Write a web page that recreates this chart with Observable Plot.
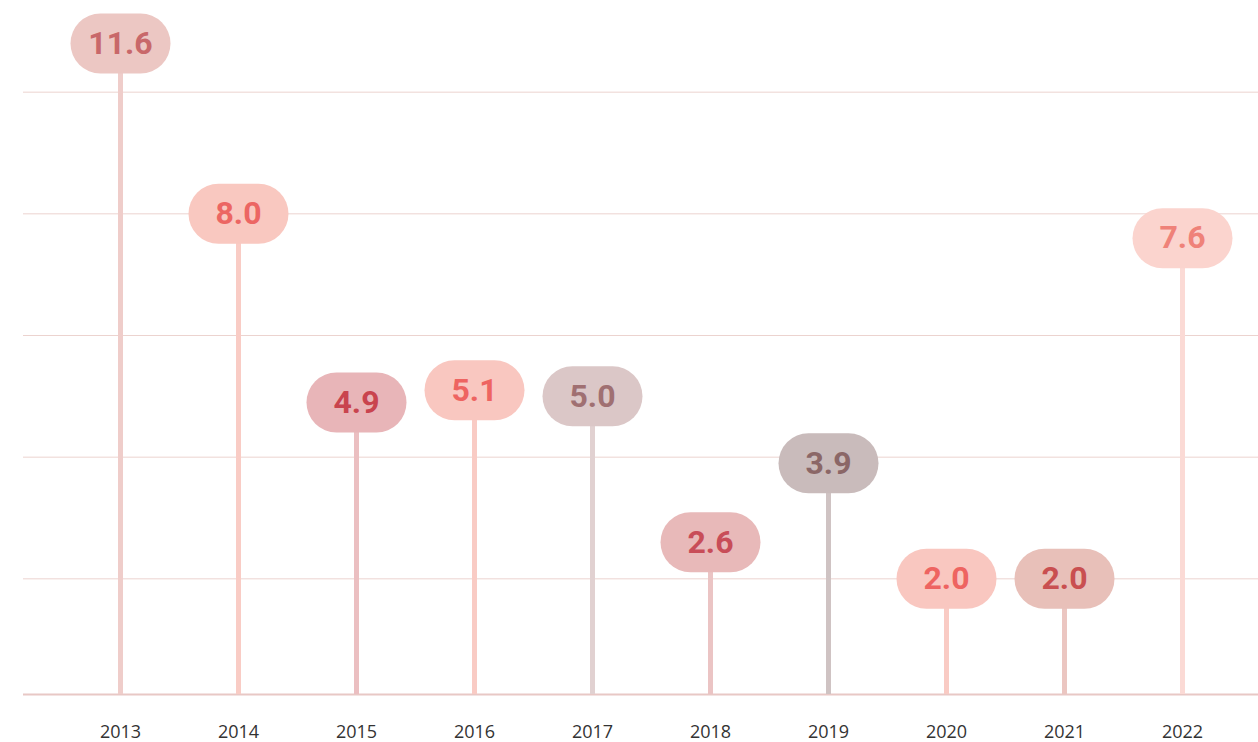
<!DOCTYPE html>
<html><head><meta charset="utf-8">
<script src="https://cdn.jsdelivr.net/npm/d3@7"></script>
<script src="https://cdn.jsdelivr.net/npm/@observablehq/plot@0.6"></script>
<style>body{margin:0;background:#fff;overflow:hidden;}</style>
</head><body><div id="chart"></div>
<script>
const years = ["2013","2014","2015","2016","2017","2018","2019","2020","2021","2022"];
const values = [11.6, 8.0, 4.9, 5.1, 5.0, 2.6, 3.9, 2.0, 2.0, 7.6];
const pillFills = ["#ecc7c3","#f9c8c0","#e8b5b8","#f9c7c0","#dbc7c7","#e8b9b9","#c9bbbb","#f9c7c0","#e8c0b9","#fbd4ce"];
const textColors = ["#c8686a","#ec6663","#c9444e","#ee6461","#a07072","#c84d58","#8b6767","#ee6461","#c94f50","#ef8279"];
const stemColors = ["#efcdca","#f9ccc5","#ebbfc1","#f9cbc4","#e1d1d1","#ebc4c4","#cfc3c3","#f9cbc4","#ebc6c1","#fbdad5"];
const gridTicks = [2, 4, 6, 8, 10];

const data = years.map((year, i) => ({
  year, value: values[i], label: values[i].toFixed(1),
  pillFill: pillFills[i], textColor: textColors[i], stemColor: stemColors[i]
}));

// stadium-shaped symbol for the value pills
const pill = {
  draw(ctx) {
    const h = 30, w = 20;
    ctx.moveTo(-w, -h);
    ctx.lineTo(w, -h);
    ctx.arc(w, 0, h, -Math.PI / 2, Math.PI / 2);
    ctx.lineTo(-w, h);
    ctx.arc(-w, 0, h, Math.PI / 2, 3 * Math.PI / 2);
    ctx.closePath();
  }
};

const axisMark = Plot.axisX
  ? Plot.axisX({tickSize: 0, tickPadding: 25, fontSize: 18, fill: "#333", label: null})
  : null;

const chart = Plot.plot({
  width: 1258,
  height: 742,
  marginLeft: 23,
  marginRight: 0,
  marginTop: 43,
  marginBottom: 42,
  style: {fontFamily: "'Open Sans', sans-serif", fontSize: "18px", color: "#333", background: "#fff"},
  color: {type: "identity"},
  x: {type: "point", domain: years, padding: 0, insetLeft: 95, insetRight: 75, label: null, tickSize: 0, tickPadding: 25, ...(axisMark ? {axis: null} : {})},
  y: {domain: [0, 10.8], clamp: true, axis: null},
  marks: [
    Plot.ruleY(gridTicks, {stroke: "#ecd3cf", strokeWidth: 1}),
    Plot.ruleY([0], {stroke: "#e8c8c5", strokeWidth: 2, dy: -6}),
    Plot.ruleX(data, {x: "year", y1: 0, y2: "value", stroke: "stemColor", strokeWidth: 5, dy: -6}),
    Plot.dot(data, {x: "year", y: "value", symbol: pill, r: 10, fill: "pillFill", stroke: null}),
    Plot.text(data, {x: "year", y: "value", text: "label", fill: "textColor", fontSize: 32, fontWeight: 700, fontFamily: "Roboto, sans-serif"}),
    ...(axisMark ? [axisMark] : [])
  ]
});
document.getElementById("chart").appendChild(chart);
</script>
</body></html>
